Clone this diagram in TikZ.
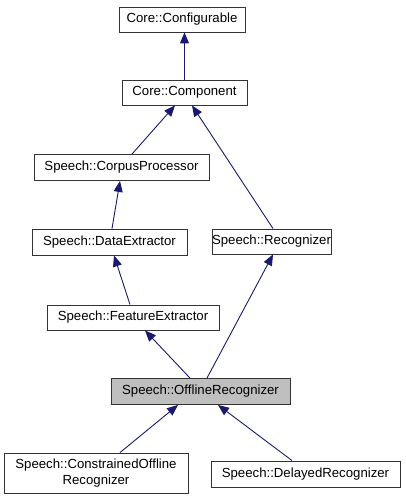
\documentclass[tikz,border=0pt]{standalone}
\usepackage{fontspec}
\setmainfont{Liberation Sans}
\usetikzlibrary{arrows.meta}
\definecolor{edgeblue}{HTML}{191970}
\definecolor{boxgray}{HTML}{BFBFBF}
\begin{document}
\begin{tikzpicture}[x=1pt,y=-1pt,
  box/.style={draw=black!80, line width=0.9pt, fill=white, inner sep=0pt, align=center,
    font=\fontsize{13.2}{16}\selectfont},
  inh/.style={draw=edgeblue, line width=0.9pt, -{Triangle[length=11pt,width=9pt]}}]
\useasboundingbox (0,0) rectangle (405,500);
\node[box, minimum width=126pt, minimum height=25pt] (conf) at (182,19.5) {Core::Configurable};
\node[box, minimum width=125pt, minimum height=25pt] (comp) at (184.5,92.5) {Core::Component};
\node[box, minimum width=175pt, minimum height=26pt] (corpus) at (121.5,167.5) {Speech::CorpusProcessor};
\node[box, minimum width=155pt, minimum height=26pt] (data) at (109.5,242) {Speech::DataExtractor};
\node[box, minimum width=119pt, minimum height=25pt] (rec) at (271.5,241.5) {Speech::Recognizer};
\node[box, minimum width=172pt, minimum height=25pt] (feat) at (133,317.5) {Speech::FeatureExtractor};
\node[box, fill=boxgray, minimum width=179pt, minimum height=26pt] (off) at (200.5,391.5) {Speech::OfflineRecognizer};
\node[box, minimum width=184pt, minimum height=40pt] (cons) at (96,473) {Speech::ConstrainedOffline\\Recognizer};
\node[box, minimum width=189pt, minimum height=26pt] (del) at (305.5,474) {Speech::DelayedRecognizer};

\draw[inh] (comp.north) -- (comp.north |- conf.south);
\draw[inh] ([xshift=10.5pt]corpus.north) -- ([xshift=-9.5pt]comp.south);
\draw[inh] ([xshift=1.5pt]rec.north) -- ([xshift=7.5pt]comp.south);
\draw[inh] ([xshift=2.5pt]data.north) -- ([xshift=-1.5pt]corpus.south);
\draw[inh] ([xshift=-3pt]feat.north) -- ([xshift=4.5pt]data.south);
\draw[inh] ([xshift=-10.5pt]off.north) -- ([xshift=12pt]feat.south);
\draw[inh] ([xshift=6.5pt]off.north) -- ([xshift=1.5pt]rec.south);
\draw[inh] ([xshift=24pt]cons.north) -- ([xshift=-22.5pt]off.south);
\draw[inh] ([xshift=-13.5pt]del.north) -- ([xshift=17.5pt]off.south);
\end{tikzpicture}
\end{document}
